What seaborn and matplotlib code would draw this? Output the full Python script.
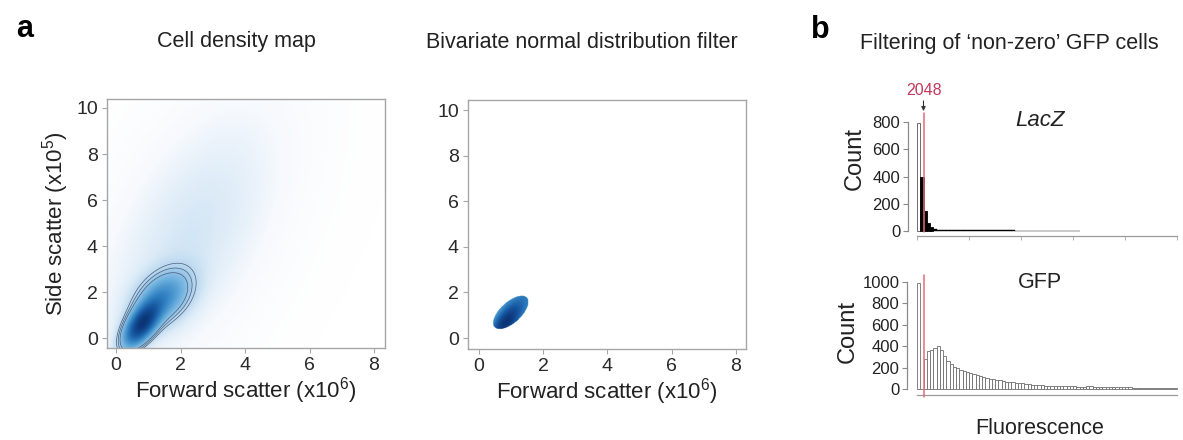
import numpy as np
import pandas as pd
import matplotlib
matplotlib.use("Agg")
import matplotlib.pyplot as plt
from matplotlib.colors import LinearSegmentedColormap, PowerNorm
import seaborn as sns

# ---- scatter density model: mixture of bivariate normals (FSC x1e6, SSC x1e5)
mix_weight = [0.42, 0.36, 0.30]
mix_mean_fsc = [0.80, 1.45, 2.30]
mix_mean_ssc = [0.60, 1.75, 4.40]
mix_sd_fsc = [0.35, 0.55, 1.30]
mix_sd_ssc = [0.60, 0.75, 2.60]
mix_rho = [0.60, 0.40, 0.55]

# contour levels (fraction of peak density)
contour_levels = [0.08, 0.11, 0.15]

# ---- bivariate normal gate
gate_mean = [0.98, 1.12]
gate_sd = [0.30, 0.40]
gate_rho = 0.62
gate_radius = 1.85

scatter_ticks_x = [0, 2, 4, 6, 8]
scatter_ticks_y = [0, 2, 4, 6, 8, 10]

# ---- fluorescence histograms (bin width 1024)
bin_width = 1024
threshold = 2048
lacz_counts = [790, 400, 150, 60, 28, 16, 11, 9, 8, 7, 7, 6, 6, 6, 5, 5, 5, 5, 5, 4,
               4, 4, 4, 4, 4, 4, 4, 4, 4, 4, 3, 3, 3, 3, 3, 3, 3, 3, 3, 3,
               3, 3, 3, 3, 3, 3, 3, 3, 3, 3]
gfp_counts = [990, 0, 280, 355, 365, 385, 398, 360, 310, 265, 235, 210, 195, 180, 170,
              160, 150, 140, 130, 122, 115, 105, 98, 92, 86, 80, 74, 70, 66, 62, 60,
              57, 54, 50, 46, 42, 39, 36,
              34, 32, 31, 30, 29, 28, 27, 26, 25, 25, 24, 23, 23, 22,
              24, 25, 23, 21,
              20, 19, 19, 18, 17, 17, 16, 16, 15, 15, 14, 14, 13, 13, 12, 12, 12, 11,
              11, 11, 10, 10, 10, 10]
lacz_ticks = [0, 800]
gfp_ticks = [0, 1000]
fluor_axis_max = 81920
fluor_tick_step = 16384

# ---------------------------------------------------------------- style
sns.set_theme(style="white")
plt.rcParams["font.family"] = ["Liberation Sans", "DejaVu Sans"]
plt.rcParams["mathtext.default"] = "regular"

W, H = 1183, 440
fig = plt.figure(figsize=(W / 100, H / 100), dpi=100)
fig.patch.set_facecolor("white")


def rect(l, t, r, b):
    return [l / W, 1 - b / H, (r - l) / W, (b - t) / H]


def ftext(x, y, s, **kw):
    fig.text(x / W, 1 - y / H, s, ha="center", va="center", **kw)


def bvn(X, Y, mx, my, sx, sy, rho):
    zx = (X - mx) / sx
    zy = (Y - my) / sy
    q = (zx ** 2 - 2 * rho * zx * zy + zy ** 2) / (1 - rho ** 2)
    return np.exp(-q / 2) / (2 * np.pi * sx * sy * np.sqrt(1 - rho ** 2))


cmap = LinearSegmentedColormap.from_list(
    "cells", [(0.0, "#ffffff"), (0.15, "#f6f9fd"), (0.30, "#dcebf7"),
              (0.45, "#b3d4ee"), (0.60, "#6db0de"), (0.75, "#3182c2"),
              (0.88, "#1655a0"), (1.0, "#0b3474")])
cmap.set_bad((1, 1, 1, 0))
norm = PowerNorm(gamma=0.34, vmin=0, vmax=1)

tick_col = "#2a2a2a"
spine_col = "#a6a6a6"


def scatter_axes(r, xlim, ylim):
    ax = fig.add_axes(r)
    ax.set_xlim(*xlim)
    ax.set_ylim(*ylim)
    for s in ax.spines.values():
        s.set_color(spine_col)
        s.set_linewidth(1.0)
    ax.set_xticks(scatter_ticks_x)
    ax.set_yticks(scatter_ticks_y)
    ax.tick_params(axis="both", direction="out", length=3.5, width=0.8, color=spine_col,
                   labelsize=14, labelcolor=tick_col, pad=3,
                   bottom=True, left=True)
    ax.set_xlabel("Forward scatter (x10$^{6}$)", fontsize=16, color="#222222", labelpad=1)
    return ax


def mixture_density(X, Y):
    D = np.zeros_like(X)
    for w, mx, my, sx, sy, r in zip(mix_weight, mix_mean_fsc, mix_mean_ssc,
                                    mix_sd_fsc, mix_sd_ssc, mix_rho):
        D += w * bvn(X, Y, mx, my, sx, sy, r)
    return D


# ---- panel a, left: density map
xl1, yl1 = (-0.28, 8.34), (-0.43, 10.39)
ax1 = scatter_axes(rect(107, 99, 385, 348), xl1, yl1)
X, Y = np.meshgrid(np.linspace(*xl1, 600), np.linspace(*yl1, 600))
D = mixture_density(X, Y)
peak = D.max()
D /= peak
ax1.imshow(D, origin="lower", extent=(*xl1, *yl1), cmap=cmap, norm=norm,
           aspect="auto", interpolation="bilinear", zorder=1)
ax1.contour(X, Y, D, levels=contour_levels, colors="#3c4a66", linewidths=0.5,
            alpha=0.85, zorder=2)
ax1.set_ylabel("Side scatter (x10$^{5}$)", fontsize=16, color="#222222", labelpad=4)

# ---- panel a, middle: bivariate normal filter
xl2, yl2 = (-0.34, 8.31), (-0.48, 10.44)
ax2 = scatter_axes(rect(468, 100, 746, 349), xl2, yl2)
X2, Y2 = np.meshgrid(np.linspace(*xl2, 600), np.linspace(*yl2, 600))
D2 = mixture_density(X2, Y2) / peak
zx = (X2 - gate_mean[0]) / gate_sd[0]
zy = (Y2 - gate_mean[1]) / gate_sd[1]
mah = np.sqrt((zx ** 2 - 2 * gate_rho * zx * zy + zy ** 2) / (1 - gate_rho ** 2))
D2 = np.ma.masked_where(mah > gate_radius, D2)
ax2.imshow(D2, origin="lower", extent=(*xl2, *yl2), cmap=cmap, norm=norm,
           aspect="auto", interpolation="bilinear", zorder=1)

# ---- panel b: fluorescence histograms
red_line = "#e46b7c"


def hist_axes(r, counts, xlim, ylim, yticks, fill, edge, show_xticks):
    ax = fig.add_axes(r)
    n = len(counts)
    frame = pd.DataFrame({"fluorescence": np.arange(n) * bin_width + bin_width / 2,
                          "count": counts})
    sns.histplot(data=frame, x="fluorescence", weights="count",
                 binwidth=bin_width, binrange=(0, n * bin_width), ax=ax,
                 stat="count", facecolor=fill, edgecolor=edge, linewidth=0.6, alpha=1)
    ax.set_xlim(*xlim)
    ax.set_ylim(*ylim)
    for s in ("top", "right"):
        ax.spines[s].set_visible(False)
    ax.spines["left"].set_bounds(yticks[0], yticks[-1])
    ax.spines["bottom"].set_bounds(0, fluor_axis_max)
    ax.spines["left"].set_color("#8a8a8a")
    ax.spines["bottom"].set_color("#9a9a9a")
    ax.spines["left"].set_linewidth(0.9)
    ax.spines["bottom"].set_linewidth(0.9)
    ax.set_yticks(yticks)
    ax.set_xticks(np.arange(0, fluor_axis_max + 1, fluor_tick_step))
    ax.tick_params(axis="y", direction="out", length=3.5, width=0.8, color="#8a8a8a",
                   labelsize=12, labelcolor="#222222", pad=2, left=True)
    ax.tick_params(axis="x", direction="out", length=3 if show_xticks else 0, width=0.7,
                   color="#b0b0b0", labelbottom=False, bottom=True)
    ax.set_xlabel("")
    ax.set_ylabel("")
    ax.set_facecolor((1, 1, 1, 0))
    return ax


bx1 = hist_axes(rect(908, 100, 1183, 236), lacz_counts, (-2836, 83810), (-36.7, 961.5),
                list(range(lacz_ticks[0], lacz_ticks[1] + 1, 200)), "black", "black", True)
bx1.patches[0].set_facecolor("white")
bx1.patches[0].set_edgecolor("#555555")
for p in bx1.patches[5:]:
    p.set_linewidth(0.3)
bx1.plot([threshold, threshold], [-7, 866], color=red_line, lw=1.1, zorder=5)
bx1.annotate("", xy=(threshold, 880), xytext=(threshold, 955),
             arrowprops=dict(arrowstyle="-|>", color="#333333", lw=0.8,
                             mutation_scale=6, shrinkA=0, shrinkB=0),
             annotation_clip=False)

bx2 = hist_axes(rect(907, 272, 1183, 395), gfp_counts, (-3151, 83810), (-56, 1093),
                list(range(gfp_ticks[0], gfp_ticks[1] + 1, 200)), "white", "#6e6e6e", False)
bx2.plot([threshold, threshold], [-75, 1065], color=red_line, lw=1.1, zorder=5,
         clip_on=False)

# ---- labels
ftext(25, 29, "a", fontsize=22, fontweight="bold", color="black")
ftext(820, 30, "b", fontsize=22, fontweight="bold", color="black")
ftext(236, 42, "Cell density map", fontsize=15.5, color="#222222")
ftext(582, 42, "Bivariate normal distribution filter", fontsize=15.5, color="#222222")
ftext(1009, 43, "Filtering of \u2018non-zero\u2019 GFP cells", fontsize=15.5, color="#222222")
ftext(924, 90, "2048", fontsize=11.5, color="#c2385a")
ftext(1040, 121, "LacZ", fontsize=16, style="italic", color="#222222")
ftext(1040, 283, "GFP", fontsize=15.5, color="#222222")
ftext(855, 158, "Count", fontsize=17, rotation=90, color="#222222")
ftext(848, 331, "Count", fontsize=17, rotation=90, color="#222222")
ftext(1040, 428, "Fluorescence", fontsize=15.5, color="#222222")

fig.savefig("out.png", dpi=100, facecolor="white")
